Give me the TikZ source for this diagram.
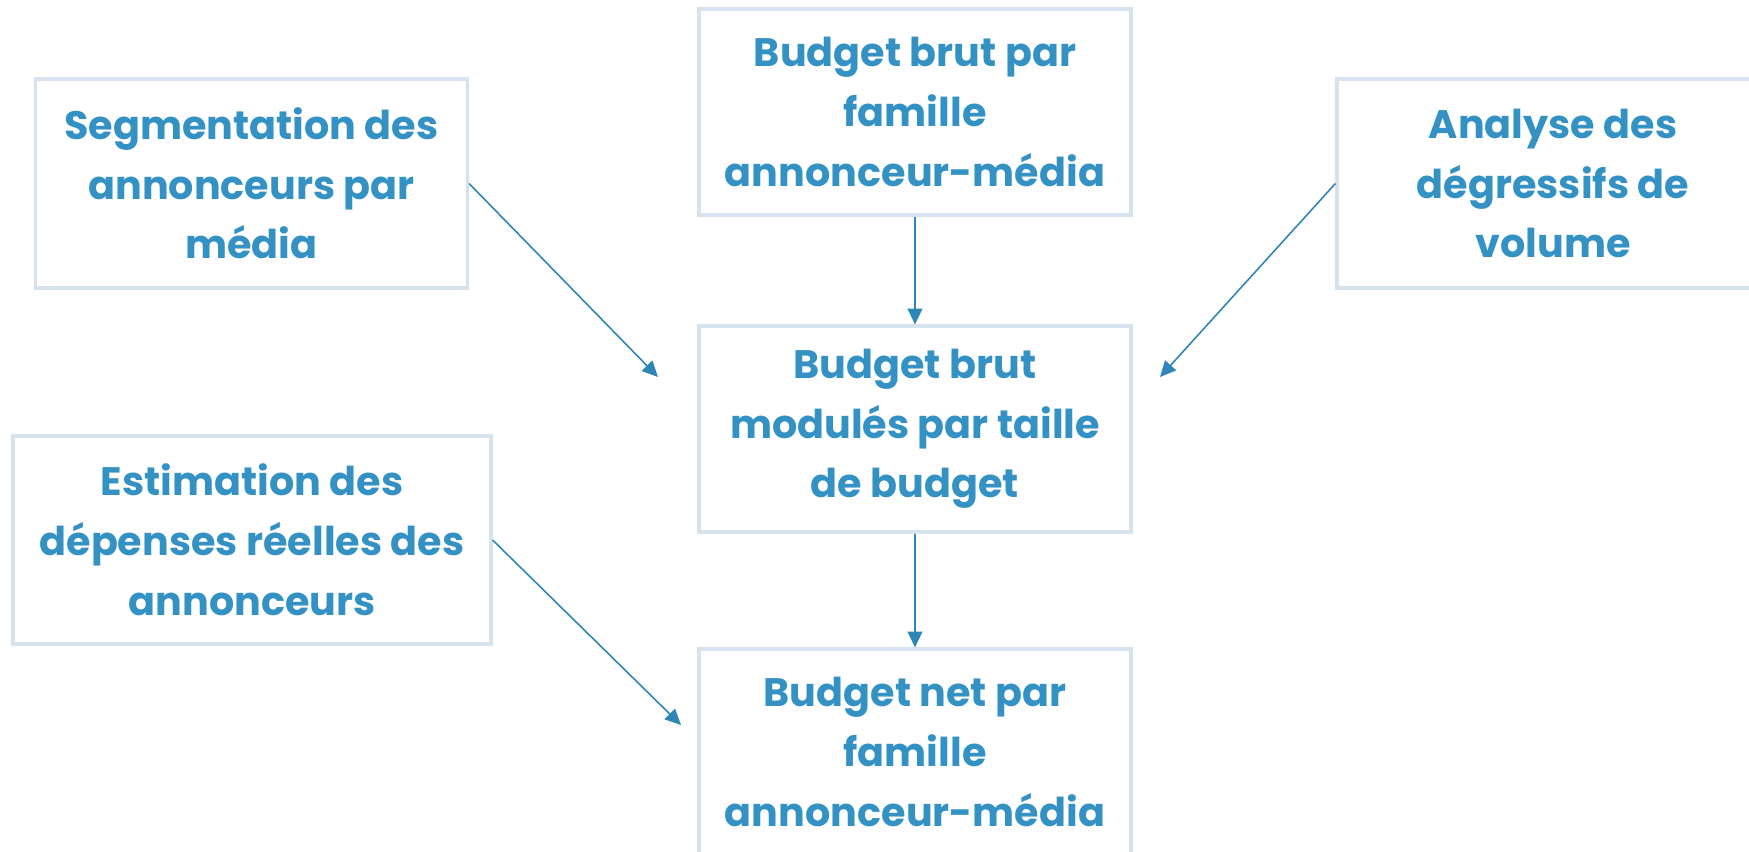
\documentclass[tikz,border=0pt]{standalone}
\usepackage{fontspec}
\setmainfont{Poppins}
\usetikzlibrary{arrows.meta}
\definecolor{textblue}{RGB}{52,145,196}
\definecolor{boxline}{RGB}{214,226,238}
\definecolor{arrowblue}{RGB}{46,134,182}

\begin{document}
\begin{tikzpicture}
\useasboundingbox (0,0) rectangle (17.49,-8.52);
\tikzset{BoxStyle/.style ={draw=boxline, line width=0.9pt, align=center, inner sep=0,
  minimum width=4.32cm, minimum height=2.06cm, text=textblue,
  font=\fontsize{11.3}{17}\selectfont\bfseries}}
\tikzset{EdgeStyle/.style ={draw=arrowblue, line width=0.45pt, -{Triangle[length=4.5pt,width=4.2pt]}}}
\node[BoxStyle] (brut) at (9.15,-1.12) {Budget brut par\\famille\\annonceur-média};
\node[BoxStyle,minimum height=2.09cm] (segm) at (2.515,-1.835) {Segmentation des\\annonceurs par\\média};
\node[BoxStyle,minimum height=2.09cm] (analyse) at (15.53,-1.835) {Analyse des\\dégressifs de\\volume};
\node[BoxStyle] (module) at (9.15,-4.29) {Budget brut\\modulés par taille\\de budget};
\node[BoxStyle,minimum width=4.78cm,minimum height=2.08cm] (estim) at (2.52,-5.40) {Estimation des\\dépenses réelles des\\annonceurs};
\node[BoxStyle] (net) at (9.15,-7.52) {Budget net par\\famille\\annonceur-média};
\coordinate (segmEnd) at (6.58,-3.77);
\coordinate (analyseEnd) at (11.60,-3.77);
\coordinate (estimEnd) at (6.81,-7.25);
\draw[EdgeStyle] (brut) -- (module);
\draw[EdgeStyle] (module) -- (net);
\draw[EdgeStyle] (segm.east) -- (segmEnd);
\draw[EdgeStyle] (analyse.west) -- (analyseEnd);
\draw[EdgeStyle] (estim.east) -- (estimEnd);
\end{tikzpicture}
\end{document}
